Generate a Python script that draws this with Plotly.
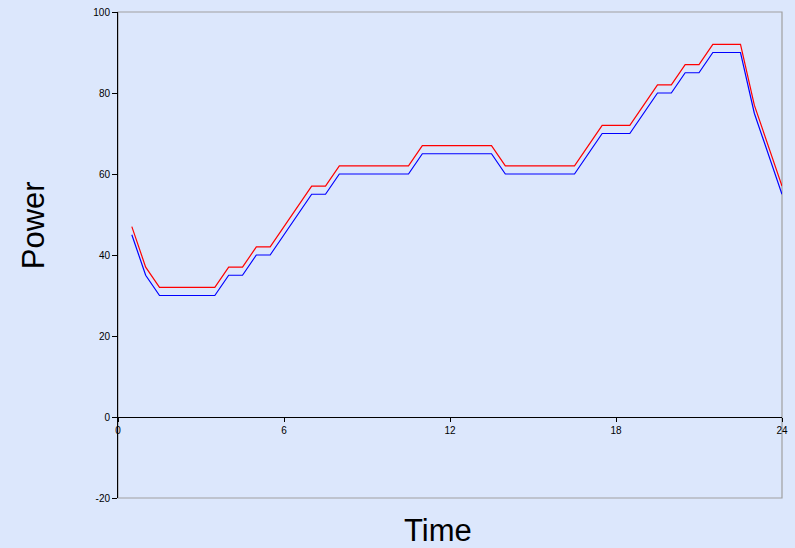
import plotly.graph_objects as go

time = [0.5, 1, 1.5, 2, 2.5, 3, 3.5, 4, 4.5, 5, 5.5, 6, 6.5, 7, 7.5, 8, 8.5, 9, 9.5, 10,
        10.5, 11, 11.5, 12, 12.5, 13, 13.5, 14, 14.5, 15, 15.5, 16, 16.5, 17, 17.5, 18,
        18.5, 19, 19.5, 20, 20.5, 21, 21.5, 22, 22.5, 23, 23.5, 24]
power_blue = [45, 35, 30, 30, 30, 30, 30, 35, 35, 40, 40, 45, 50, 55, 55, 60, 60, 60, 60, 60,
              60, 65, 65, 65, 65, 65, 65, 60, 60, 60, 60, 60, 60, 65, 70, 70,
              70, 75, 80, 80, 85, 85, 90, 90, 90, 75, 65, 55]
power_red = [47, 37, 32, 32, 32, 32, 32, 37, 37, 42, 42, 47, 52, 57, 57, 62, 62, 62, 62, 62,
             62, 67, 67, 67, 67, 67, 67, 62, 62, 62, 62, 62, 62, 67, 72, 72,
             72, 77, 82, 82, 87, 87, 92, 92, 92, 77, 67, 57]
x_ticks = [0, 6, 12, 18, 24]
y_ticks = [-20, 0, 20, 40, 60, 80, 100]

BG = "#DCE7FC"

fig = go.Figure()
fig.add_trace(go.Scatter(x=time, y=power_red, mode="lines",
                         line=dict(color="#FF0000", width=1.2), showlegend=False))
fig.add_trace(go.Scatter(x=time, y=power_blue, mode="lines",
                         line=dict(color="#0000FF", width=1.2), showlegend=False))

fig.add_shape(type="rect", xref="paper", yref="paper", x0=0, x1=1, y0=0, y1=1,
              line=dict(color="#A0A0A0", width=1.2), layer="below")

fig.update_layout(
    width=795, height=548,
    margin=dict(l=118, r=13, t=12, b=50, autoexpand=False),
    paper_bgcolor=BG, plot_bgcolor=BG,
    font=dict(family="Liberation Sans, Arial, sans-serif", color="#000000"),
    xaxis=dict(range=[0, 24], tickvals=x_ticks, ticktext=[str(v) for v in x_ticks],
               showgrid=False, zeroline=False, showline=True, linecolor="#000000",
               linewidth=1, ticks="outside", ticklen=4, tickcolor="#000000",
               tickfont=dict(size=10), anchor="free", position=1/6, automargin=False),
    yaxis=dict(range=[-20, 100], tickvals=y_ticks, ticktext=[str(v) for v in y_ticks],
               showgrid=False, zeroline=False, showline=True, linecolor="#000000",
               linewidth=1, ticks="outside", ticklen=5, tickcolor="#000000",
               tickfont=dict(size=10), automargin=False),
    annotations=[
        dict(text="Power", xref="paper", yref="paper", x=-0.126, y=0.562, textangle=-90,
             showarrow=False, font=dict(size=31), xanchor="center", yanchor="middle"),
        dict(text="Time", xref="paper", yref="paper", x=0.482, y=-0.066,
             showarrow=False, font=dict(size=31), xanchor="center", yanchor="middle"),
    ],
)

fig.write_html("out.html", config={"displayModeBar": False},
               post_script="document.body.style.margin='0px';document.body.style.overflow='hidden';")
